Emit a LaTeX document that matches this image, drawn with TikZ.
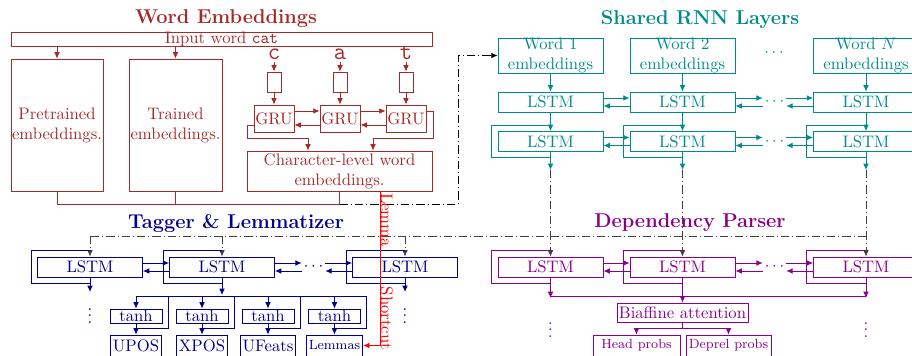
\documentclass[tikz,border=0pt]{standalone}
\usetikzlibrary{positioning, arrows, arrows.meta}

\definecolor{embred}{RGB}{165,42,42}
\definecolor{rnnteal}{RGB}{0,139,139}
\definecolor{tagblue}{RGB}{0,0,139}
\definecolor{psrpurple}{RGB}{139,0,139}

\tikzset{
  embbox/.style={draw=embred, text=embred, inner sep=0pt, align=center},
  rnnbox/.style={draw=rnnteal, text=rnnteal, inner sep=0pt, align=center, minimum width=63pt},
  tagbox/.style={draw=tagblue, text=tagblue, inner sep=0pt, align=center},
  psrbox/.style={draw=psrpurple, text=psrpurple, inner sep=0pt, align=center},
  lstmbox/.style={minimum width=63pt, minimum height=12pt},
  ddline/.style={black!75, dash pattern=on 5pt off 1.8pt on 0.6pt off 1.8pt},
}

\begin{document}
\begin{tikzpicture}[x=0.6pt,y=-0.6pt,>={Latex[length=3.8pt,width=3.4pt]},line width=0.5pt]
\useasboundingbox (0,0) rectangle (912,356);

% word embeddings
\node[text=embred,font=\large\bfseries] (weTitle) at (226,19) {Word Embeddings};
\node[embbox,minimum width=252.6pt,minimum height=8.4pt] (input) at (221.5,39) {\smash{\raisebox{-3pt}{Input word \texttt{cat}}}};
\node[embbox,minimum width=55.2pt,minimum height=79.2pt] (pretrained) at (57,125) {Pretrained\\embeddings.};
\node[embbox,minimum width=55.8pt,minimum height=79.2pt] (trained) at (175.5,125) {Trained\\embeddings.};
\draw[embred,->] (pretrained.north |- input.south) -- (pretrained);
\draw[embred,->] (trained.north |- input.south) -- (trained);

\foreach \c/\x in {c/274,a/340,t/406}{
  \node[text=embred,font=\Large\ttfamily,anchor=base,inner sep=1pt,text depth=0pt] (char\c) at (\x,60) {\c};
  \node[embbox,minimum width=8.4pt,minimum height=12pt] (vec\c) at (\x,82) {};
  \node[embbox,minimum width=24pt,minimum height=16.2pt] (gru\c) at (\x,118.5) {GRU};
  \draw[embred,->] (char\c) -- (vec\c);
  \draw[embred,->] (vec\c) -- (gru\c);
}
\draw[embred,->] (gruc.east |- 0,111) -- (grua.west |- 0,111);
\draw[embred,->] (grua.east |- 0,111) -- (grut.west |- 0,111);
\draw[embred,->] (grut.west |- 0,125) -- (grua.east |- 0,125);
\draw[embred,->] (grua.west |- 0,125) -- (gruc.east |- 0,125);

\node[embbox,minimum width=111pt,minimum height=24pt] (charemb) at (339.5,171) {Character-level word\\embeddings.};
\draw[embred,->] (gruc.west |- 0,125) -| (247,138) -| (charemb.north -| 308,0);
\draw[embred,->] (grut.east |- 0,111) -| (433,138) -| (charemb.north -| 373,0);

\coordinate (concat) at (339.5,204);
\draw[embred] (pretrained.south) |- (concat);
\draw[embred] (trained.south) -- (trained.south |- concat);
\draw[embred] (charemb.south) -- (concat);

% shared rnn layers
\node[text=rnnteal,font=\large\bfseries] (rnnTitle) at (700,20) {Shared RNN Layers};
\foreach \n/\x/\lab in {1/550.5/1,2/682.5/2,3/866/$N$}{
  \node[rnnbox,minimum height=19.8pt] (word\n) at (\x,55.5) {Word \lab\\embeddings};
  \node[rnnbox,lstmbox] (rnnA\n) at (\x,102) {LSTM};
  \node[rnnbox,lstmbox] (rnnB\n) at (\x,141.5) {LSTM};
  \coordinate (rnnOut\n) at (\x,170);
  \draw[rnnteal,->] (word\n) -- (rnnA\n);
  \draw[rnnteal,->] (rnnA\n) -- (rnnB\n);
  \draw[rnnteal] (\x,125) -| (\x-59.5,157) -- (\x,157);
  \draw[rnnteal,->] (rnnB\n) -- (rnnOut\n);
}
\node[text=rnnteal] (wordDots) at (774,53) {$\cdots$};
\node[text=rnnteal,inner sep=1pt] (rnnAdots) at (774.5,102) {$\cdots$};
\node[text=rnnteal,inner sep=1pt] (rnnBdots) at (774.5,141.5) {$\cdots$};

\draw[ddline,->,black] (concat) -| (458,55.5) -- (word1.west);

% tagger and lemmatizer
\node[text=tagblue,font=\large\bfseries] (tagTitle) at (236,223) {Tagger \& Lemmatizer};
\coordinate (tagfork) at (866,236);
\draw[ddline] (tagfork) -- (90,236);
\foreach \n/\x in {1/90,2/222,3/405}{
  \node[tagbox,lstmbox] (tag\n) at (\x,267) {LSTM};
  \draw[ddline,->] (\x,236) -- (tag\n);
  \draw[tagblue] (\x,250) -| (\x-59,283) -- (\x,283);
}
\node[text=tagblue,inner sep=1pt] (tagdots) at (313.5,267) {$\cdots$};
\draw[tagblue,->] (tag1) -- (90,292);
\draw[tagblue,->] (tag3) -- (405,292);
\node[text=tagblue] (tagVdotsA) at (90,311) {$\vdots$};
\node[text=tagblue] (tagVdotsB) at (405,311) {$\vdots$};
\draw[tagblue,->] (tag2) -- (222,295);
\draw[tagblue] (136,296) -- (366.5,296);
\foreach \n/\x/\lab in {upos/136/UPOS,xpos/202/XPOS,ufeats/268/UFeats,lemmas/334.5/{\footnotesize Lemmas}}{
  \node[tagbox,minimum width=31.2pt,minimum height=8.4pt] (tanh\n) at (\x,316) {tanh};
  \node[tagbox,minimum width=28pt,minimum height=12.6pt,inner xsep=1.5pt] (\n) at (\x,345.5) {\lab};
  \draw[tagblue,->] (\x,296) -- (tanh\n);
  \draw[tagblue] (\x+32,296) |- (\x,328);
  \draw[tagblue,->] (tanh\n) -- (\n);
}

% lemma shortcut
\draw[red,->] (charemb.south -| 380,0) |- (lemmas.east);
\node[text=red,rotate=-90,anchor=base,inner sep=0pt] (shortcutLabel) at (381,271.5) {Lemma\hspace{24pt}Shortcut};

% dependency parser
\node[text=psrpurple,font=\large\bfseries] (psrTitle) at (690,223) {Dependency Parser};
\foreach \n/\x in {1/550.5,2/682.5,3/866}{
  \node[psrbox,lstmbox] (psr\n) at (\x,267) {LSTM};
  \draw[ddline,->] (rnnOut\n) -- (psr\n);
  \draw[psrpurple] (\x,250) -| (\x-59.5,283) -- (\x,283);
}
\node[text=psrpurple,inner sep=1pt] (psrdots) at (774.5,267) {$\cdots$};
\draw[psrpurple,->] (psr1) -- (550.5,298);
\draw[psrpurple,->] (psr3) -- (866,298);
\draw[psrpurple] (550.5,296) -- (866,296);
\node[text=psrpurple] (psrVdotsA) at (550.5,325) {$\vdots$};
\node[text=psrpurple] (psrVdotsB) at (866,325) {$\vdots$};
\node[psrbox,minimum width=78.6pt,minimum height=11.4pt,inner xsep=1pt] (biaffine) at (682.5,312.5) {Biaffine attention};
\draw[psrpurple,->] (psr2) -- (biaffine);
\coordinate (psrfork) at (682.5,328);
\node[psrbox,minimum width=52.2pt,minimum height=12.6pt,font=\footnotesize] (headprobs) at (636.5,345.5) {Head probs};
\node[psrbox,minimum width=51pt,minimum height=12.6pt,font=\footnotesize] (deprelprobs) at (728.5,345.5) {Deprel probs};
\draw[psrpurple] (biaffine) -- (psrfork);
\draw[psrpurple,->] (psrfork) -| (headprobs);
\draw[psrpurple,->] (psrfork) -| (deprelprobs);

% links between neighbouring lstms
\foreach \row/\y/\col in {rnnA/102/rnnteal,rnnB/141.5/rnnteal,tag/267/tagblue,psr/267/psrpurple}{
  \draw[\col,->] (\row1.east |- 0,\y-4) -- (\row2.west |- 0,\y-4);
  \draw[\col,->] (\row2.west |- 0,\y+4) -- (\row1.east |- 0,\y+4);
  \draw[\col,->] (\row2.east |- 0,\y-4) -- (\row dots.west |- 0,\y-4);
  \draw[\col,->] (\row dots.west |- 0,\y+4) -- (\row2.east |- 0,\y+4);
  \draw[\col,->] (\row dots.east |- 0,\y-4) -- (\row3.west |- 0,\y-4);
  \draw[\col,->] (\row3.west |- 0,\y+4) -- (\row dots.east |- 0,\y+4);
}
\end{tikzpicture}
\end{document}
